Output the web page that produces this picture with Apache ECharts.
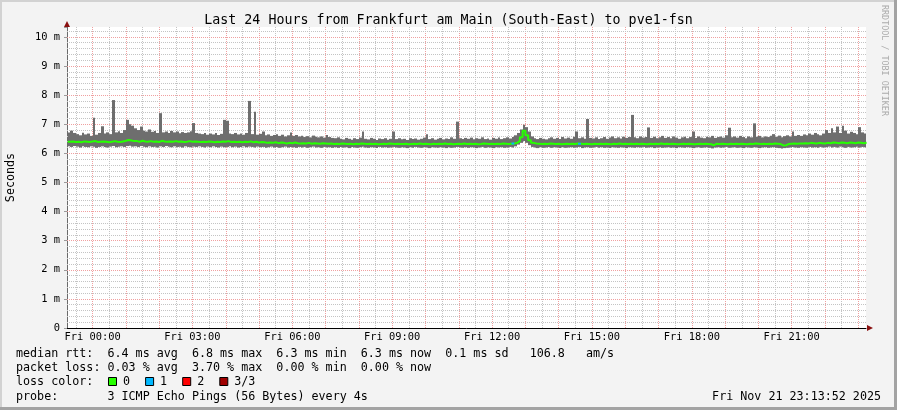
<!DOCTYPE html>
<html><head><meta charset="utf-8">
<script src="https://cdn.jsdelivr.net/npm/echarts@6/dist/echarts.min.js"></script>
<style>html,body{margin:0;padding:0;background:#f3f3f3}#c{width:897px;height:410px}</style>
</head><body><div id="c"></div><script>
// ---------- data ----------
const chartTitle = 'Last 24 Hours from Frankfurt am Main (South-East) to pve1-fsn';
const yAxisName = 'Seconds';
const startHour = -0.75;          // first sample: Thu 23:15 (hours relative to Fri 00:00)
const stepHours = 5 / 60;         // 5 minute samples
const xMin = -0.7689;             // Thu 23:13:52
const xMax = 23.2311;             // Fri 23:13:52
const yMax = 10.34;
const xLabelHours = [0, 3, 6, 9, 12, 15, 18, 21];
const xLabelDay = 'Fri';

const smokeHigh = [
6.72,6.78,6.70,6.66,6.62,6.71,6.65,6.68,6.60,7.22,6.64,6.70,
6.93,6.68,6.72,6.66,7.83,6.72,6.76,6.70,6.80,7.15,7.00,6.95,
6.86,6.80,6.92,6.78,6.75,6.82,6.74,6.77,6.70,7.38,6.72,6.75,
6.70,6.77,6.72,6.75,6.69,6.73,6.70,6.72,6.76,7.04,6.70,6.68,
6.66,6.70,6.64,6.68,6.65,6.70,6.63,6.67,7.15,7.12,6.68,6.66,
6.70,6.65,6.68,6.64,6.70,7.80,6.66,7.43,6.64,6.67,6.75,6.62,
6.65,6.60,6.63,6.66,6.60,6.64,6.58,6.62,6.72,6.60,6.63,6.58,
6.60,6.56,6.59,6.55,6.61,6.57,6.55,6.58,6.54,6.63,6.56,6.53,
6.52,6.55,6.50,6.48,6.53,6.50,6.47,6.52,6.49,6.54,6.75,6.50,
6.48,6.53,6.50,6.46,6.51,6.49,6.52,6.47,6.50,6.75,6.49,6.52,
6.48,6.50,6.46,6.52,6.49,6.51,6.47,6.50,6.54,6.66,6.49,6.52,
6.47,6.50,6.53,6.48,6.51,6.49,6.55,6.50,7.09,6.52,6.49,6.53,
6.50,6.54,6.48,6.52,6.50,6.55,6.49,6.51,6.47,6.53,6.50,6.54,
6.49,6.52,6.55,6.51,6.56,6.62,6.70,6.82,6.98,6.90,6.75,6.58,
6.52,6.49,6.53,6.50,6.48,6.52,6.55,6.50,6.53,6.49,6.56,6.51,
6.54,6.50,6.57,6.75,6.52,6.55,6.50,7.18,6.53,6.51,6.55,6.49,
6.52,6.56,6.50,6.54,6.58,6.52,6.55,6.51,6.57,6.53,6.56,7.32,
6.55,6.52,6.58,6.54,6.56,6.89,6.53,6.57,6.52,6.55,6.60,6.53,
6.56,6.52,6.58,6.54,6.50,6.55,6.57,6.52,6.56,6.75,6.53,6.58,
6.54,6.52,6.57,6.55,6.60,6.53,6.56,6.58,6.54,6.62,6.88,6.55,
6.58,6.54,6.60,6.56,6.52,6.58,6.55,7.03,6.57,6.60,6.55,6.58,
6.56,6.60,6.66,6.57,6.61,6.55,6.59,6.62,6.58,6.75,6.60,6.63,
6.60,6.65,6.62,6.68,6.64,6.70,6.66,6.62,6.68,6.80,6.70,6.86,
6.72,6.92,6.70,6.95,6.78,6.68,6.74,6.70,6.66,6.90,6.72,6.68
];
const smokeLow = [
6.24,6.22,6.25,6.23,6.20,6.24,6.22,6.21,6.24,6.23,6.19,6.22,
6.24,6.22,6.20,6.23,6.25,6.21,6.23,6.24,6.22,6.25,6.26,6.23,
6.24,6.22,6.25,6.23,6.21,6.24,6.22,6.23,6.20,6.24,6.22,6.25,
6.23,6.21,6.24,6.22,6.23,6.20,6.24,6.22,6.21,6.23,6.22,6.24,
6.22,6.20,6.23,6.21,6.24,6.22,6.20,6.23,6.21,6.22,6.24,6.21,
6.23,6.20,6.22,6.24,6.21,6.23,6.22,6.20,6.23,6.21,6.22,6.19,
6.21,6.23,6.20,6.22,6.19,6.21,6.23,6.20,6.22,6.21,6.19,6.22,
6.20,6.22,6.19,6.21,6.23,6.20,6.21,6.19,6.22,6.20,6.21,6.19,
6.21,6.19,6.22,6.20,6.21,6.18,6.22,6.20,6.19,6.21,6.23,6.20,
6.19,6.21,6.20,6.18,6.22,6.20,6.21,6.19,6.20,6.22,6.20,6.19,
6.21,6.20,6.18,6.21,6.19,6.22,6.20,6.19,6.21,6.20,6.18,6.21,
6.20,6.19,6.21,6.20,6.18,6.21,6.19,6.20,6.22,6.20,6.19,6.21,
6.19,6.21,6.20,6.18,6.20,6.22,6.19,6.21,6.20,6.18,6.21,6.20,
6.21,6.19,6.20,6.22,6.20,6.24,6.30,6.36,6.42,6.36,6.28,6.22,
6.20,6.18,6.21,6.19,6.20,6.22,6.19,6.21,6.20,6.18,6.21,6.19,
6.20,6.21,6.19,6.20,6.22,6.18,6.20,6.21,6.19,6.20,6.22,6.19,
6.21,6.19,6.20,6.18,6.21,6.20,6.19,6.21,6.20,6.18,6.21,6.20,
6.19,6.21,6.20,6.22,6.19,6.20,6.21,6.18,6.20,6.21,6.19,6.20,
6.21,6.19,6.20,6.18,6.21,6.20,6.19,6.21,6.20,6.18,6.20,6.21,
6.19,6.20,6.21,6.19,6.17,6.20,6.21,6.19,6.20,6.22,6.19,6.20,
6.21,6.19,6.20,6.18,6.21,6.20,6.19,6.21,6.20,6.18,6.20,6.21,
6.19,6.20,6.21,6.19,6.18,6.17,6.18,6.19,6.20,6.22,6.20,6.19,
6.21,6.20,6.19,6.22,6.20,6.21,6.19,6.22,6.20,6.21,6.23,6.20,
6.22,6.20,6.23,6.21,6.19,6.22,6.20,6.21,6.23,6.20,6.22,6.21
];
const medianRtt = [
6.40,6.41,6.39,6.40,6.38,6.41,6.40,6.39,6.41,6.42,6.39,6.40,
6.41,6.40,6.38,6.40,6.42,6.40,6.39,6.41,6.43,6.46,6.44,6.42,
6.42,6.40,6.43,6.41,6.40,6.42,6.40,6.41,6.39,6.43,6.41,6.40,
6.41,6.40,6.42,6.40,6.41,6.39,6.40,6.42,6.40,6.41,6.40,6.39,
6.40,6.39,6.41,6.40,6.38,6.40,6.39,6.41,6.40,6.42,6.39,6.40,
6.39,6.40,6.38,6.40,6.39,6.41,6.38,6.40,6.37,6.39,6.38,6.36,
6.37,6.36,6.38,6.35,6.37,6.36,6.34,6.36,6.35,6.37,6.35,6.34,
6.35,6.34,6.36,6.33,6.35,6.34,6.33,6.35,6.34,6.33,6.34,6.32,
6.33,6.32,6.34,6.33,6.32,6.33,6.31,6.33,6.32,6.34,6.33,6.32,
6.33,6.32,6.33,6.31,6.32,6.33,6.32,6.34,6.33,6.32,6.33,6.32,
6.32,6.33,6.31,6.32,6.33,6.32,6.34,6.32,6.33,6.32,6.31,6.33,
6.32,6.33,6.32,6.34,6.32,6.33,6.31,6.32,6.33,6.32,6.34,6.32,
6.33,6.32,6.33,6.31,6.32,6.34,6.33,6.32,6.33,6.32,6.33,6.32,
6.34,6.33,6.32,6.33,6.34,6.36,6.42,6.55,6.78,6.62,6.45,6.36,
6.34,6.33,6.32,6.33,6.32,6.34,6.33,6.32,6.33,6.31,6.32,6.33,
6.32,6.33,6.32,6.34,6.33,6.32,6.33,6.32,6.31,6.33,6.32,6.33,
6.32,6.33,6.32,6.31,6.33,6.32,6.34,6.32,6.33,6.32,6.33,6.32,
6.33,6.32,6.33,6.32,6.31,6.33,6.32,6.33,6.32,6.34,6.32,6.33,
6.32,6.33,6.32,6.31,6.32,6.33,6.32,6.33,6.32,6.31,6.32,6.33,
6.32,6.33,6.32,6.31,6.28,6.33,6.32,6.33,6.32,6.31,6.33,6.32,
6.33,6.32,6.33,6.32,6.31,6.33,6.32,6.34,6.33,6.32,6.33,6.32,
6.33,6.32,6.34,6.33,6.32,6.27,6.28,6.32,6.33,6.34,6.33,6.34,
6.34,6.35,6.34,6.36,6.35,6.34,6.36,6.35,6.34,6.36,6.35,6.37,
6.36,6.35,6.37,6.36,6.35,6.37,6.36,6.35,6.37,6.36,6.35,6.36
];
// sample index -> packets lost (of 3)
const lossEvents = [[160, 1], [184, 1]];

const statLines = [
  'median rtt:  6.4 ms avg  6.8 ms max  6.3 ms min  6.3 ms now  0.1 ms sd   106.8   am/s',
  'packet loss: 0.03 % avg  3.70 % max  0.00 % min  0.00 % now',
  'loss color:',
  'probe:       3 ICMP Echo Pings (56 Bytes) every 4s'
];
const lossLegendLabels = ['0', '1', '2', '3/3'];
const lossLegendColors = ['#26ff00', '#00b8ff', '#ff0000', '#a00000'];
const timestampText = 'Fri Nov 21 23:13:52 2025';
const watermark = 'RRDTOOL / TOBI OETIKER';

// ---------- chart ----------
const MONO = 'DejaVu Sans Mono';
const N = smokeHigh.length;
const tOf = i => startHour + i * stepHours;

const smokeData = smokeHigh.map((h, i) => [tOf(i), tOf(i + 1), smokeLow[i], h]);
const medianData = medianRtt.map((v, i) => [tOf(i), v]);
medianData.push([tOf(N), medianRtt[N - 1]]);

const lossData = [];
lossEvents.forEach(([i, n]) => {
  if (lossData.length) lossData.push([tOf(i), null]);
  lossData.push([tOf(i), medianRtt[i]]);
  lossData.push([tOf(i + 1), medianRtt[i]]);
});

const gridMinor = '#c4c4c4';
const gridMajor = '#f0a0a0';
const gridLines = [];
for (let k = -1; k <= 46; k++) {
  const h = k / 2;
  gridLines.push({ xAxis: h, lineStyle: { color: k % 2 === 0 ? gridMajor : gridMinor } });
}
for (let k = 1; k <= 51; k++) {
  gridLines.push({ yAxis: k / 5, lineStyle: { color: k % 5 === 0 ? gridMajor : gridMinor } });
}

const pad = n => (n < 10 ? '0' : '') + n;

const graphics = [
  { type: 'rect', shape: { x: 0, y: 0, width: 897, height: 2 }, style: { fill: '#d2d2d2' }, silent: true },
  { type: 'rect', shape: { x: 0, y: 0, width: 2, height: 410 }, style: { fill: '#d2d2d2' }, silent: true },
  { type: 'rect', shape: { x: 0, y: 407, width: 897, height: 3 }, style: { fill: '#a3a3a3' }, silent: true },
  { type: 'rect', shape: { x: 894, y: 0, width: 3, height: 410 }, style: { fill: '#a3a3a3' }, silent: true },
  {
    type: 'text', x: 884, y: 5, rotation: -Math.PI / 2,
    style: { text: watermark, font: '8.4px ' + MONO, fill: '#ababab', textAlign: 'left', textVerticalAlign: 'middle' },
    silent: true
  },
  {
    type: 'text', x: 881, y: 396.5,
    style: { text: timestampText, font: '11.7px ' + MONO, fill: '#000', textAlign: 'right', textVerticalAlign: 'middle' },
    silent: true
  }
];
const lineY = [354, 368.3, 382, 396.5];
statLines.forEach((s, k) => {
  graphics.push({
    type: 'text', x: 16, y: lineY[k],
    style: { text: s, font: '11.7px ' + MONO, fill: '#000', textAlign: 'left', textVerticalAlign: 'middle', whiteSpace: 'pre' },
    silent: true
  });
});
lossLegendLabels.forEach((lab, k) => {
  const x0 = 108.5 + k * 37.1;
  graphics.push({
    type: 'rect', shape: { x: x0, y: 377.5, width: 8, height: 8 },
    style: { fill: lossLegendColors[k], stroke: '#000', lineWidth: 1 }, silent: true
  });
  graphics.push({
    type: 'text', x: x0 + 14.5, y: 382,
    style: { text: lab, font: '11.7px ' + MONO, fill: '#000', textAlign: 'left', textVerticalAlign: 'middle' },
    silent: true
  });
});

const chart = echarts.init(document.getElementById('c'), null, { renderer: 'canvas' });
chart.setOption({
  animation: false,
  backgroundColor: '#f3f3f3',
  title: {
    text: chartTitle, left: 'center', top: 9,
    textStyle: { fontFamily: MONO, fontSize: 13.3, fontWeight: 'normal', color: '#000', lineHeight: 14 }
  },
  grid: { left: 67, right: 31, top: 27, bottom: 82, show: true, backgroundColor: '#ffffff', borderWidth: 0,
    containLabel: false, outerBoundsMode: 'none' },
  xAxis: [{
    type: 'value', min: xMin, max: xMax, position: 'bottom',
    axisLine: { show: true, onZero: false, lineStyle: { color: '#000', width: 1 } },
    axisTick: { show: false },
    splitLine: { show: false },
    axisLabel: {
      customValues: xLabelHours, margin: 4, color: '#000', fontFamily: MONO, fontSize: 10.4,
      formatter: v => xLabelDay + ' ' + pad(Math.round(v)) + ':00'
    }
  }, {
    type: 'value', min: xMin, max: xMax, position: 'bottom', gridIndex: 0,
    axisLine: { show: true, onZero: false, symbol: ['none', 'triangle'], symbolSize: [6, 6], symbolOffset: [0, 4],
      lineStyle: { color: '#8a1010', width: 0 } },
    axisTick: { show: false }, axisLabel: { show: false }, splitLine: { show: false }
  }],
  yAxis: [{
    type: 'value', min: 0, max: yMax, interval: 1, position: 'left',
    name: yAxisName, nameLocation: 'middle', nameGap: 50, nameRotate: 90,
    nameTextStyle: { fontFamily: MONO, fontSize: 11.7, color: '#000' },
    axisLine: { show: true, onZero: false, lineStyle: { color: '#6a6a6a', width: 1 } },
    axisTick: { show: true, length: 3, lineStyle: { color: '#9a9a9a' } },
    splitLine: { show: false },
    axisLabel: {
      margin: 7, color: '#000', fontFamily: MONO, fontSize: 10.4,
      formatter: v => (Math.abs(v - Math.round(v)) > 1e-6 ? '' : (v === 0 ? '0' : Math.round(v) + ' m'))
    }
  }, {
    type: 'value', min: 0, max: yMax, position: 'left', gridIndex: 0,
    axisLine: { show: true, onZero: false, symbol: ['none', 'triangle'], symbolSize: [6, 6], symbolOffset: [0, 3],
      lineStyle: { color: '#8a1010', width: 0 } },
    axisTick: { show: false }, axisLabel: { show: false }, splitLine: { show: false }
  }],
  series: [
    {
      type: 'custom', name: 'smoke', xAxisIndex: 0, yAxisIndex: 0, clip: true, z: 2,
      data: smokeData,
      encode: { x: [0, 1], y: [2, 3] },
      renderItem: (params, api) => {
        const p0 = api.coord([api.value(0), api.value(3)]);
        const p1 = api.coord([api.value(1), api.value(2)]);
        const x0 = Math.round(p0[0]), x1 = Math.round(p1[0]);
        return {
          type: 'rect',
          shape: { x: x0, y: p0[1], width: Math.max(1, x1 - x0), height: p1[1] - p0[1] },
          style: { fill: '#6e6e6e' }
        };
      },
      silent: true
    },
    {
      type: 'line', name: 'median', xAxisIndex: 0, yAxisIndex: 0, z: 3,
      data: medianData, step: 'end', showSymbol: false, symbol: 'none',
      lineStyle: { color: '#26ff00', width: 2 }, silent: true,
      markLine: {
        z: 1, silent: true, symbol: ['none', 'none'], label: { show: false },
        lineStyle: { type: [1, 1], width: 1 },
        emphasis: { disabled: true },
        data: gridLines, animation: false
      }
    },
    {
      type: 'line', name: 'loss', xAxisIndex: 0, yAxisIndex: 0, z: 4,
      data: lossData, showSymbol: false, symbol: 'none', connectNulls: false,
      lineStyle: { color: lossLegendColors[1], width: 2 }, silent: true
    }
  ],
  graphic: graphics
});
</script></body></html>
